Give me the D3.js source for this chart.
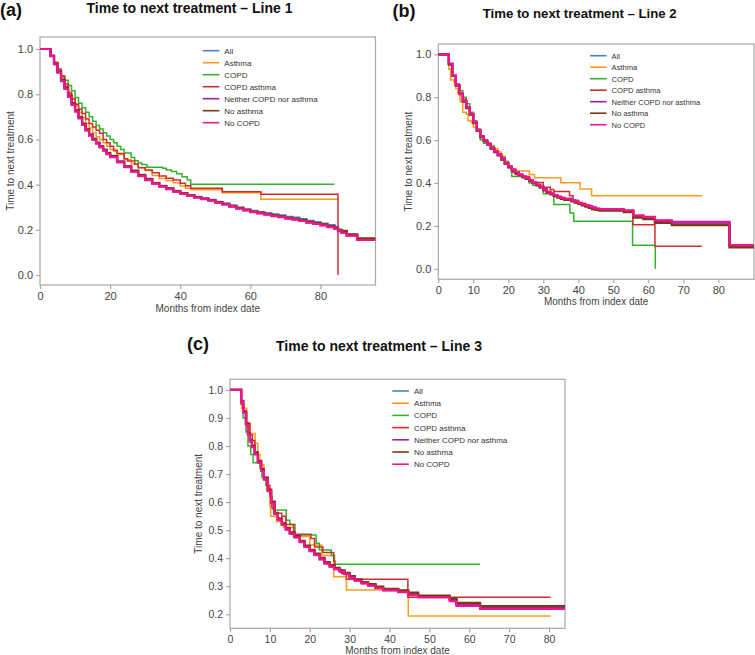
<!DOCTYPE html>
<html><head><meta charset="utf-8">
<script src="https://cdn.jsdelivr.net/npm/d3@7"></script>
<style>body{margin:0;background:#fff}svg{display:block}</style>
</head><body>
<svg id="c" width="755" height="655"></svg>
<script>
// ---------- DATA ----------
const seriesNames = ["All","Asthma","COPD","COPD asthma","Neither COPD nor asthma","No asthma","No COPD"];
const panelTags = ["(a)","(b)","(c)"];
const panelTitles = ["Time to next treatment \u2013 Line 1","Time to next treatment \u2013 Line 2","Time to next treatment \u2013 Line 3"];
const xLabel = "Months from index date";
const yLabel = "Time to next treatment";
const xTicksA = [0,20,40,60,80];
const xTicksBC = [0,10,20,30,40,50,60,70,80];
const yTicksAB = [0,0.2,0.4,0.6,0.8,1.0];
const yTicksC = [0.2,0.3,0.4,0.5,0.6,0.7,0.8,0.9,1.0];

// Panel (a) — step points [month, proportion]
const a_all = [[0,1],[2.3,1],[3,0.97],[4,0.935],[5,0.9],[6,0.865],[7,0.83],[8,0.795],[9,0.76],[10,0.73],[11,0.7],[12,0.67],[13,0.645],[14,0.622],[15,0.603],[16,0.586],[17,0.57],[18,0.555],[19,0.54],[20,0.527],[22,0.503],[24,0.482],[26,0.462],[28,0.443],[30,0.425],[32,0.408],[34,0.395],[36,0.384],[38,0.372],[40,0.362],[42,0.354],[44,0.346],[46,0.339],[48,0.333],[50,0.324],[52,0.316],[54,0.307],[56,0.298],[58,0.29],[60,0.284],[62,0.279],[64,0.274],[66,0.268],[68,0.264],[70,0.258],[72,0.254],[74,0.247],[76,0.24],[78,0.234],[80,0.228],[82,0.221],[84,0.213],[85,0.2],[86,0.192],[87.5,0.178],[90.5,0.158],[95.7,0.158]];
const a_asthma = [[0,1],[2.3,1],[3,0.97],[4,0.94],[5,0.905],[6,0.875],[7,0.84],[8,0.81],[9,0.78],[10,0.75],[11,0.72],[12,0.695],[13,0.67],[14,0.65],[15,0.63],[16,0.612],[17,0.598],[18,0.585],[19,0.57],[20,0.555],[22,0.533],[24,0.51],[26,0.492],[28,0.476],[30,0.462],[32,0.44],[34,0.427],[36,0.418],[38,0.408],[40,0.394],[41.5,0.384],[43,0.377],[52,0.364],[63,0.335],[85,0.335]];
const a_copd = [[0,1],[2.3,1],[3,0.97],[4,0.94],[5,0.91],[6,0.882],[7,0.862],[8,0.838],[9,0.815],[10,0.785],[11,0.76],[12,0.74],[13,0.72],[14,0.7],[15,0.68],[16,0.662],[17,0.646],[18,0.63],[19,0.615],[20,0.6],[21,0.585],[22,0.57],[23,0.555],[24,0.54],[26,0.52],[27,0.506],[28,0.496],[29,0.489],[30.5,0.477],[35,0.472],[36,0.465],[37.5,0.458],[39,0.448],[40.5,0.435],[42,0.42],[43,0.402],[84,0.402]];
const a_copdasthma = [[0,1],[2.3,1],[3,0.97],[4,0.94],[5,0.91],[6,0.88],[7,0.845],[8,0.805],[9,0.78],[10,0.755],[11,0.735],[12,0.715],[13,0.69],[14,0.67],[15,0.655],[16,0.64],[17,0.627],[18,0.6],[19,0.585],[20,0.57],[21,0.55],[22,0.538],[24,0.515],[25,0.505],[27,0.49],[28,0.475],[30,0.465],[32,0.452],[34,0.438],[36,0.428],[38,0.42],[40,0.406],[41.5,0.395],[43,0.384],[52,0.369],[63,0.357],[85,0.357],[85,0]];
const a_neither = [[0,1],[2.3,1],[3,0.97],[4,0.934],[5,0.898],[6,0.862],[7,0.827],[8,0.792],[9,0.757],[10,0.727],[11,0.697],[12,0.667],[13,0.642],[14,0.619],[15,0.6],[16,0.583],[17,0.567],[18,0.552],[19,0.537],[20,0.524],[22,0.5],[24,0.479],[26,0.459],[28,0.44],[30,0.422],[32,0.405],[34,0.392],[36,0.381],[38,0.37],[40,0.36],[42,0.352],[44,0.344],[46,0.337],[48,0.33],[50,0.321],[52,0.313],[54,0.304],[56,0.295],[58,0.287],[60,0.279],[62,0.274],[64,0.268],[66,0.262],[68,0.257],[70,0.251],[72,0.246],[74,0.24],[76,0.233],[78,0.227],[80,0.221],[82,0.213],[84,0.205],[85,0.195],[86,0.188],[87.5,0.175],[90.5,0.155],[95.7,0.155]];
const a_noasthma = [[0,1],[2.3,1],[3,0.97],[4,0.935],[5,0.9],[6,0.864],[7,0.829],[8,0.794],[9,0.759],[10,0.729],[11,0.699],[12,0.669],[13,0.644],[14,0.621],[15,0.602],[16,0.585],[17,0.569],[18,0.554],[19,0.539],[20,0.526],[22,0.502],[24,0.481],[26,0.461],[28,0.442],[30,0.424],[32,0.407],[34,0.394],[36,0.383],[38,0.371],[40,0.361],[42,0.353],[44,0.345],[46,0.338],[48,0.332],[50,0.323],[52,0.315],[54,0.306],[56,0.297],[58,0.289],[60,0.281],[62,0.276],[64,0.27],[66,0.264],[68,0.26],[70,0.254],[72,0.249],[74,0.243],[76,0.236],[78,0.23],[80,0.224],[82,0.216],[84,0.208],[85,0.2],[86,0.195],[87.5,0.18],[90.5,0.162],[95.7,0.162]];
const a_nocopd = [[0,1],[2.3,1],[3,0.968],[4,0.932],[5,0.895],[6,0.858],[7,0.823],[8,0.788],[9,0.753],[10,0.723],[11,0.693],[12,0.664],[13,0.639],[14,0.617],[15,0.598],[16,0.581],[17,0.565],[18,0.55],[19,0.535],[20,0.522],[22,0.498],[24,0.477],[26,0.457],[28,0.438],[30,0.42],[32,0.404],[34,0.391],[36,0.38],[38,0.369],[40,0.359],[42,0.351],[44,0.343],[46,0.336],[48,0.329],[50,0.32],[52,0.312],[54,0.303],[56,0.294],[58,0.286],[60,0.278],[62,0.273],[64,0.267],[66,0.261],[68,0.256],[70,0.25],[72,0.245],[74,0.239],[76,0.232],[78,0.226],[80,0.22],[82,0.212],[84,0.204],[85,0.194],[86,0.187],[87.5,0.174],[90.5,0.155],[95.7,0.155]];

// Panel (b)
const b_all = [[0,1],[2.3,1],[3,0.955],[4,0.9],[5,0.855],[6,0.815],[7,0.78],[8,0.75],[9,0.72],[10,0.68],[11,0.645],[12,0.615],[13,0.595],[14,0.58],[15,0.56],[16,0.545],[17,0.53],[18,0.51],[19,0.49],[20,0.475],[21,0.46],[22,0.448],[23,0.437],[24,0.428],[25,0.42],[26,0.41],[27,0.4],[28,0.39],[29,0.38],[30,0.368],[31,0.357],[32,0.349],[33,0.341],[34,0.334],[35,0.328],[36,0.323],[38,0.316],[39,0.31],[40,0.304],[41,0.298],[42,0.293],[43,0.287],[44,0.282],[45,0.277],[46,0.274],[53,0.267],[55.7,0.243],[58.6,0.236],[61.9,0.219],[66.7,0.211],[83.2,0.105],[90.2,0.105]];
const b_asthma = [[0,1],[2.3,1],[3,0.93],[3.5,0.88],[4.5,0.87],[5,0.84],[5.5,0.82],[6.2,0.78],[7,0.73],[8,0.72],[8.5,0.69],[9.5,0.68],[10,0.66],[11,0.64],[12,0.612],[13,0.6],[14,0.585],[15,0.575],[16,0.56],[17,0.545],[18,0.525],[19,0.5],[20,0.48],[21,0.466],[22,0.456],[26,0.44],[27.5,0.425],[35,0.401],[40.5,0.372],[43.8,0.341],[75.3,0.341]];
const b_copd = [[0,1],[2.3,1],[3,0.95],[4,0.9],[5,0.86],[6,0.83],[7,0.8],[8,0.77],[9,0.73],[10,0.69],[11,0.65],[12,0.6],[13,0.585],[14,0.58],[15,0.57],[16,0.55],[17,0.535],[18,0.52],[19,0.5],[20,0.47],[21,0.43],[24,0.425],[26,0.4],[27,0.39],[30,0.35],[33,0.3],[37.6,0.26],[38.7,0.222],[55.5,0.11],[62,0.11],[62,0]];
const b_copdasthma = [[0,1],[2.3,1],[3,0.95],[4,0.9],[5,0.86],[6,0.82],[7,0.79],[8,0.755],[9,0.72],[10,0.685],[11,0.65],[12,0.62],[13,0.6],[14,0.585],[15,0.565],[16,0.55],[17,0.535],[18,0.515],[19,0.495],[20,0.475],[21,0.45],[22,0.44],[24,0.43],[26,0.412],[27,0.402],[30,0.38],[32,0.37],[33,0.36],[37.5,0.34],[38.5,0.32],[40,0.305],[42,0.295],[43.8,0.275],[53,0.265],[55.6,0.205],[61.9,0.105],[75.3,0.105]];
const b_neither = [[0,1],[2.3,1],[3,0.955],[4,0.9],[5,0.856],[6,0.816],[7,0.781],[8,0.751],[9,0.721],[10,0.681],[11,0.646],[12,0.616],[13,0.596],[14,0.581],[15,0.561],[16,0.546],[17,0.531],[18,0.511],[19,0.491],[20,0.476],[21,0.461],[22,0.449],[23,0.438],[24,0.429],[25,0.421],[26,0.411],[27,0.401],[28,0.391],[29,0.381],[30,0.369],[31,0.358],[32,0.35],[33,0.342],[34,0.335],[35,0.33],[36,0.325],[38,0.318],[39,0.312],[40,0.306],[41,0.3],[42,0.295],[43,0.289],[44,0.284],[45,0.279],[46,0.276],[53,0.27],[55.7,0.246],[58.6,0.239],[61.9,0.223],[66.7,0.216],[83.2,0.108],[90.2,0.108]];
const b_noasthma = [[0,1],[2.3,1],[3,0.954],[4,0.899],[5,0.854],[6,0.814],[7,0.779],[8,0.749],[9,0.719],[10,0.679],[11,0.644],[12,0.614],[13,0.594],[14,0.579],[15,0.559],[16,0.544],[17,0.529],[18,0.509],[19,0.489],[20,0.474],[21,0.459],[22,0.447],[23,0.436],[24,0.427],[25,0.419],[26,0.409],[27,0.399],[28,0.389],[29,0.379],[30,0.366],[31,0.355],[32,0.347],[33,0.339],[34,0.332],[35,0.326],[36,0.321],[38,0.314],[39,0.308],[40,0.302],[41,0.296],[42,0.29],[43,0.284],[44,0.279],[45,0.274],[46,0.271],[53,0.264],[55.7,0.239],[58.6,0.232],[61.9,0.214],[66.7,0.204],[83.2,0.1],[90.2,0.1]];
const b_nocopd = [[0,1],[2.3,1],[3,0.956],[4,0.901],[5,0.857],[6,0.817],[7,0.782],[8,0.752],[9,0.722],[10,0.682],[11,0.647],[12,0.617],[13,0.597],[14,0.582],[15,0.562],[16,0.547],[17,0.532],[18,0.512],[19,0.492],[20,0.477],[21,0.462],[22,0.45],[23,0.44],[24,0.431],[25,0.423],[26,0.413],[27,0.403],[28,0.393],[29,0.383],[30,0.371],[31,0.36],[32,0.352],[33,0.344],[34,0.337],[35,0.332],[36,0.327],[38,0.32],[39,0.314],[40,0.308],[41,0.302],[42,0.297],[43,0.291],[44,0.286],[45,0.281],[46,0.278],[53,0.272],[55.7,0.249],[58.6,0.242],[61.9,0.226],[66.7,0.219],[83.2,0.11],[90.2,0.11]];

// Panel (c)
const c_all = [[0,1],[2.3,1],[2.8,0.96],[3.3,0.923],[4,0.88],[4.5,0.845],[5,0.82],[5.5,0.8],[6.2,0.774],[7,0.745],[7.8,0.715],[8.5,0.685],[9.5,0.643],[10.3,0.6],[11.2,0.56],[12,0.54],[13,0.522],[14,0.505],[15,0.49],[16.2,0.477],[17.5,0.46],[18.7,0.443],[20,0.428],[21.2,0.414],[22.5,0.399],[23.7,0.384],[25,0.373],[26.2,0.364],[27.5,0.355],[28.7,0.346],[30,0.334],[31.3,0.323],[33,0.313],[34.6,0.305],[36.5,0.296],[38.4,0.288],[42.2,0.282],[44.7,0.273],[47.2,0.265],[55.1,0.253],[56.8,0.238],[62.7,0.226],[84,0.226]];
const c_asthma = [[0,1],[2.3,1],[2.9,0.935],[4.2,0.881],[5.1,0.845],[6.3,0.81],[7,0.77],[7.5,0.733],[8.5,0.68],[9.2,0.64],[10,0.584],[10.2,0.55],[11.7,0.53],[13.4,0.51],[15.9,0.477],[20,0.447],[23,0.41],[26,0.334],[29.2,0.287],[44.7,0.194],[80.4,0.194]];
const c_copd = [[0,1],[2.3,1],[2.8,0.95],[3.3,0.9],[4,0.85],[4.5,0.8],[5.2,0.77],[5.8,0.74],[7,0.74],[7.5,0.72],[8,0.69],[9,0.66],[9.5,0.64],[10.4,0.596],[10.8,0.572],[14.1,0.535],[15,0.52],[16.3,0.483],[21.6,0.453],[22.4,0.429],[25.4,0.41],[26.2,0.378],[62.7,0.378]];
const c_copdasthma = [[0,1],[2.3,1],[2.8,0.95],[3.5,0.92],[4.2,0.88],[5,0.84],[5.6,0.82],[6.2,0.78],[7,0.74],[7.8,0.72],[8.5,0.68],[9.2,0.66],[10,0.62],[10.5,0.58],[11,0.56],[13,0.55],[14,0.52],[16,0.485],[20.3,0.47],[21.2,0.44],[23.3,0.42],[26,0.39],[26.3,0.36],[28,0.345],[29.2,0.325],[44.6,0.261],[80.4,0.261]];
const c_neither = [[0,1],[2.3,1],[2.8,0.959],[3.3,0.921],[4,0.878],[4.5,0.843],[5,0.818],[5.5,0.798],[6.2,0.772],[7,0.743],[7.8,0.713],[8.5,0.683],[9.5,0.641],[10.3,0.598],[11.2,0.558],[12,0.538],[13,0.52],[14,0.503],[15,0.488],[16.2,0.475],[17.5,0.458],[18.7,0.441],[20,0.426],[21.2,0.412],[22.5,0.397],[23.7,0.382],[25,0.371],[26.2,0.362],[27.5,0.353],[28.7,0.344],[30,0.332],[31.3,0.321],[33,0.311],[34.6,0.303],[36.5,0.294],[38.4,0.286],[42.2,0.28],[44.7,0.27],[47.2,0.262],[55.1,0.25],[56.8,0.233],[62.7,0.222],[84,0.222]];
const c_noasthma = [[0,1],[2.3,1],[2.8,0.961],[3.3,0.925],[4,0.882],[4.5,0.847],[5,0.822],[5.5,0.802],[6.2,0.776],[7,0.747],[7.8,0.717],[8.5,0.687],[9.5,0.645],[10.3,0.602],[11.2,0.562],[12,0.542],[13,0.524],[14,0.507],[15,0.492],[16.2,0.479],[17.5,0.462],[18.7,0.445],[20,0.43],[21.2,0.416],[22.5,0.401],[23.7,0.386],[25,0.375],[26.2,0.366],[27.5,0.357],[28.7,0.348],[30,0.336],[31.3,0.325],[33,0.315],[34.6,0.308],[36.5,0.299],[38.4,0.291],[42.2,0.285],[44.7,0.277],[47.2,0.267],[55.1,0.256],[56.8,0.241],[62.7,0.229],[84,0.229]];
const c_nocopd = [[0,1],[2.3,1],[2.8,0.958],[3.3,0.92],[4,0.876],[4.5,0.841],[5,0.816],[5.5,0.796],[6.2,0.77],[7,0.741],[7.8,0.711],[8.5,0.681],[9.5,0.639],[10.3,0.596],[11.2,0.557],[12,0.537],[13,0.519],[14,0.502],[15,0.487],[16.2,0.474],[17.5,0.457],[18.7,0.44],[20,0.425],[21.2,0.411],[22.5,0.396],[23.7,0.381],[25,0.37],[26.2,0.361],[27.5,0.352],[28.7,0.343],[30,0.331],[31.3,0.32],[33,0.31],[34.6,0.302],[36.5,0.293],[38.4,0.285],[42.2,0.279],[44.7,0.268],[47.2,0.26],[55.1,0.247],[56.8,0.23],[62.7,0.219],[84,0.219]];

// ---------- STYLE / LAYOUT ----------
const colors = ["#4a84c4","#ff9a1c","#35b22c","#d22c2c","#a21cb0","#7a3a12","#f0158c"];
const widths = [2.2,1.5,1.5,1.5,2.2,2.2,2.2];
const FONT = "'Liberation Sans', Arial, Helvetica, sans-serif";
const panels = [
  {tag:panelTags[0], title:panelTitles[0], data:[a_all,a_asthma,a_copd,a_copdasthma,a_neither,a_noasthma,a_nocopd],
   l:40, r:375.5, t:37, b:285, xd:[0,95.7], yd:[-0.044,1.053], xt:xTicksA, yt:yTicksAB,
   tagX:0, tagY:16, titleX:189.5, titleY:13, titleSize:14, legX:202.7, legY:50.7, legDy:12, legFs:8,
   ylx:13.5, xly:312, tickFs:11},
  {tag:panelTags[1], title:panelTitles[1], data:[b_all,b_asthma,b_copd,b_copdasthma,b_neither,b_noasthma,b_nocopd],
   l:438.3, r:754, t:44, b:279.3, xd:[0,90.2], yd:[-0.049,1.048], xt:xTicksBC, yt:yTicksAB,
   tagX:392.5, tagY:17, titleX:579.7, titleY:17.5, titleSize:13.2, legX:590, legY:55.7, legDy:11.5, legFs:7.6,
   ylx:412, xly:305, tickFs:11},
  {tag:panelTags[2], title:panelTitles[2], data:[c_all,c_asthma,c_copd,c_copdasthma,c_neither,c_noasthma,c_nocopd],
   l:230, r:565, t:379.3, b:628.3, xd:[0,84], yd:[0.150,1.038], xt:xTicksBC, yt:yTicksC,
   tagX:187, tagY:350, titleX:379, titleY:350.7, titleSize:14, legX:392.3, legY:391, legDy:12.2, legFs:8,
   ylx:201.5, xly:653.5, tickFs:10.5}
];

const svg = d3.select("#c");

panels.forEach(p => {
  const x = d3.scaleLinear().domain(p.xd).range([p.l, p.r]);
  const y = d3.scaleLinear().domain(p.yd).range([p.b, p.t]);
  const g = svg.append("g");

  g.append("rect").attr("x", p.l).attr("y", p.t).attr("width", p.r - p.l).attr("height", p.b - p.t)
    .attr("fill", "none").attr("stroke", "#a8a8a8").attr("stroke-width", 1.2);

  const xa = g.append("g").attr("transform", `translate(0,${p.b})`)
    .call(d3.axisBottom(x).tickValues(p.xt).tickSize(4).tickPadding(3).tickFormat(d3.format("d")));
  const ya = g.append("g").attr("transform", `translate(${p.l},0)`)
    .call(d3.axisLeft(y).tickValues(p.yt).tickSize(4).tickPadding(3).tickFormat(d3.format(".1f")));
  [xa, ya].forEach(a => {
    a.select(".domain").remove();
    a.selectAll("line").attr("stroke", "#a8a8a8").attr("stroke-width", 1.2);
    a.selectAll("text").attr("fill", "#444").attr("font-family", FONT).attr("font-size", p.tickFs);
  });

  const clipId = "clip" + p.tag.replace(/\W/g, "");
  svg.append("clipPath").attr("id", clipId).append("rect")
    .attr("x", p.l).attr("y", p.t).attr("width", p.r - p.l).attr("height", p.b - p.t);
  const line = d3.line().x(d => x(d[0])).y(d => y(d[1])).curve(d3.curveStepAfter);
  const lg = g.append("g").attr("clip-path", `url(#${clipId})`);
  p.data.forEach((s, i) => {
    lg.append("path").attr("d", line(s)).attr("fill", "none")
      .attr("stroke", colors[i]).attr("stroke-width", widths[i]).attr("stroke-linejoin", "miter");
  });

  const leg = g.append("g");
  seriesNames.forEach((n, i) => {
    const yy = p.legY + i * p.legDy;
    leg.append("line").attr("x1", p.legX).attr("x2", p.legX + 16.6).attr("y1", yy).attr("y2", yy)
      .attr("stroke", colors[i]).attr("stroke-width", 1.6);
    leg.append("text").attr("x", p.legX + 21.6).attr("y", yy + 3).text(n)
      .attr("font-family", FONT).attr("font-size", p.legFs).attr("fill", "#333");
  });

  g.append("text").attr("x", (p.l + p.r) / 2).attr("y", p.xly).attr("text-anchor", "middle")
    .attr("font-family", FONT).attr("font-size", 10).attr("fill", "#444").text(xLabel);
  g.append("text").attr("transform", `translate(${p.ylx},${(p.t + p.b) / 2}) rotate(-90)`)
    .attr("text-anchor", "middle").attr("font-family", FONT).attr("font-size", 10).attr("fill", "#444").text(yLabel);
  g.append("text").attr("x", p.titleX).attr("y", p.titleY).attr("text-anchor", "middle")
    .attr("font-family", FONT).attr("font-weight", "bold").attr("font-size", p.titleSize).attr("fill", "#111").text(p.title);
  g.append("text").attr("x", p.tagX).attr("y", p.tagY)
    .attr("font-family", FONT).attr("font-weight", "bold").attr("font-size", 18).attr("fill", "#111").text(p.tag);
});
</script>
</body></html>
